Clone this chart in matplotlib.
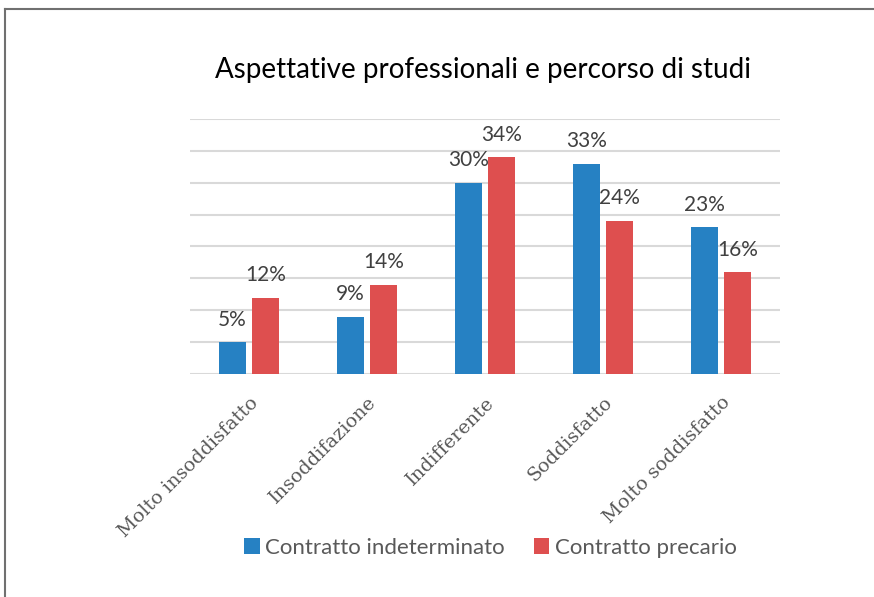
import matplotlib
matplotlib.use("Agg")
import matplotlib.pyplot as plt
from matplotlib.lines import Line2D
import numpy as np

categories = ["Molto insoddisfatto", "Insoddifazione", "Indifferente", "Soddisfatto", "Molto soddisfatto"]
series_names = ["Contratto indeterminato", "Contratto precario"]
indeterminato = [5, 9, 30, 33, 23]
precario = [12, 14, 34, 24, 16]
title = "Aspettative professionali e percorso di studi"

blue = "#2681c3"
red = "#de4f4f"

fig = plt.figure(figsize=(8.74, 5.97), dpi=100)
ax = fig.add_axes([190/874, 1-374/597, 590/874, 255/597])

x = np.arange(len(categories))
w = 0.229
off = 0.14
b1 = ax.bar(x - off, indeterminato, w, color=blue, label=series_names[0], zorder=3)
b2 = ax.bar(x + off, precario, w, color=red, label=series_names[1], zorder=3)

ax.set_xlim(-0.5, len(categories) - 0.5)
ax.set_ylim(0, 40)
ax.set_yticks(np.arange(0, 41, 5))
ax.yaxis.grid(True, color="#d9d9d9", linewidth=1.5, zorder=0)
ax.tick_params(axis="y", length=0, labelleft=False)
ax.tick_params(axis="x", length=0, pad=14)
for s in ["top", "right", "left", "bottom"]:
    ax.spines[s].set_visible(False)

ax.set_xticks(x)
ax.set_xticklabels(categories, rotation=45, ha="right", va="top", rotation_mode="anchor",
                   family="DejaVu Serif", fontsize=13.8, color="#595959")

lab_font = dict(family=["Lato", "DejaVu Sans"], fontsize=15, color="#404040")
for bars, vals in [(b1, indeterminato), (b2, precario)]:
    ax.bar_label(bars, labels=[f"{v}%" for v in vals], padding=9, **lab_font)

fig.text(0.553, 0.882, title, ha="center", va="center", family=["Lato", "DejaVu Sans"],
         fontsize=20, color="black")

leg = fig.legend(loc="center", bbox_to_anchor=(0.561, 0.082), ncol=2, frameon=False,
                 handlelength=0.7, handleheight=0.7, handletextpad=0.25, columnspacing=1.3,
                 prop=dict(family="Lato", size=16))
for t in leg.get_texts():
    t.set_color("#595959")

fig.add_artist(Line2D([5/874, 5/874], [0, 1-9/597], transform=fig.transFigure, color="#707070", linewidth=1.5))
fig.add_artist(Line2D([5/874, 1], [1-9/597, 1-9/597], transform=fig.transFigure, color="#707070", linewidth=1.5))

fig.savefig("out.png", dpi=100)
